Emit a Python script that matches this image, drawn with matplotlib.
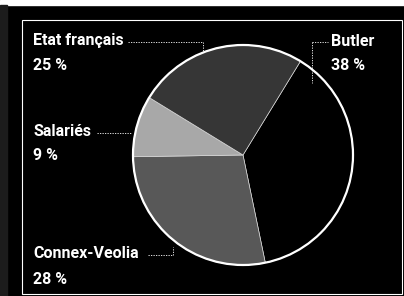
import matplotlib.pyplot as plt
from matplotlib.patches import Rectangle

# parts du capital
noms = ['Butler', 'Connex-Veolia', 'Salariés', 'Etat français']
parts = [38, 28, 9, 25]
couleurs = ['#000000', '#585858', '#a8a8a8', '#363636']

W, H = 404, 296

def py(y):
    # coordonnées pixel (origine en haut) -> axes
    return H - y

plt.rcParams['font.family'] = ['Roboto', 'DejaVu Sans']

fig = plt.figure(figsize=(W / 100, H / 100), dpi=100)
fig.patch.set_facecolor('black')
ax = fig.add_axes([0, 0, 1, 1])
ax.set_facecolor('black')

# cadre
ax.add_patch(Rectangle((0, py(5)), W, 5, color='white', zorder=0))
ax.add_patch(Rectangle((0, 0), 7, H - 5, color='#1c1c1c', zorder=0))
ax.add_patch(Rectangle((22, py(294)), 380, 274, fill=False, ec='white', lw=0.8))

# camembert
ax.pie(parts, colors=couleurs, startangle=58.5, counterclock=False,
       center=(243, py(155)), radius=110, frame=True,
       wedgeprops=dict(edgecolor='#dddddd', linewidth=0.5))
# contour blanc plus épais
cercle = plt.Circle((243, py(155)), 110, fill=False, ec='white', lw=1.6)
ax.add_patch(cercle)

ax.set_xlim(0, W)
ax.set_ylim(0, H)
ax.set_aspect('auto')
ax.axis('off')

# étiquettes
txt = dict(color='white', fontweight='bold', fontsize=11.5, va='center')
positions = {
    'Butler': (331, 41),
    'Connex-Veolia': (33, 254),
    'Salariés': (33, 131),
    'Etat français': (33, 41),
}
for nom, p in zip(noms, parts):
    x, y = positions[nom]
    ax.text(x, py(y), nom, **txt)
    ax.text(x, py(y + 25), f'{p} %', **txt)

# traits de rappel
ls = dict(color='white', lw=0.6, ls=(0, (1.5, 1.5)))
ax.plot([128, 203, 203], [py(42), py(42), py(52)], **ls)
ax.plot([312, 328], [py(42), py(42)], **ls)
ax.plot([312, 312], [py(42), py(83)], **ls)
ax.plot([97, 132], [py(133), py(133)], **ls)
ax.plot([148, 173, 173], [py(255), py(255), py(247)], **ls)

fig.savefig('out.png', dpi=100, facecolor='black')
